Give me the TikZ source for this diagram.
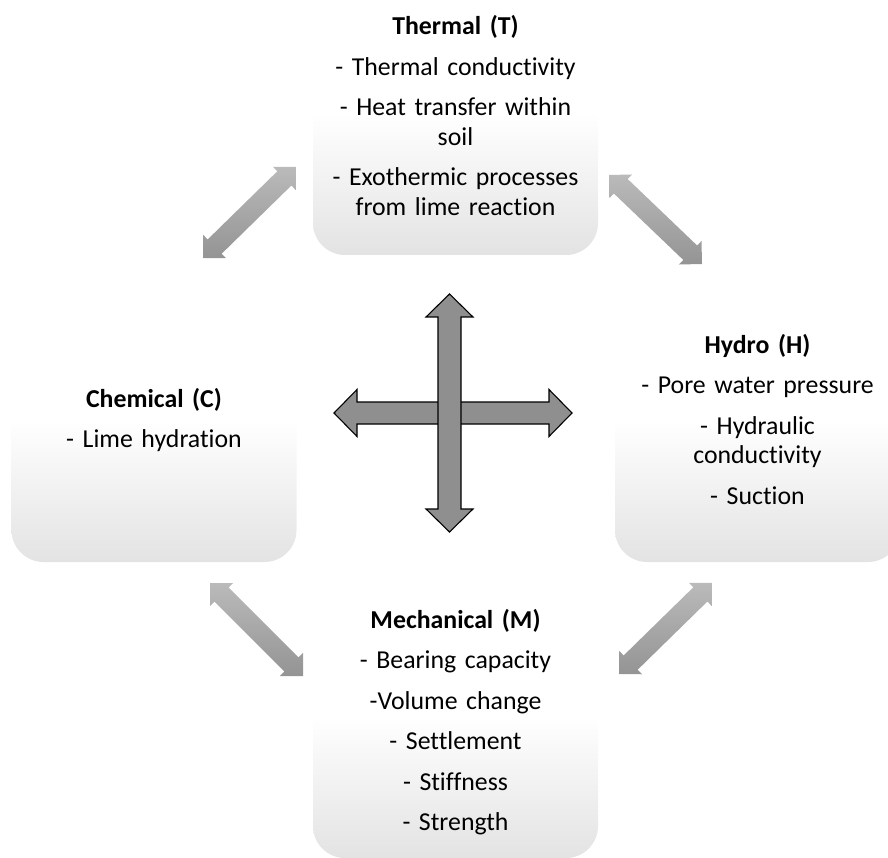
\documentclass[tikz,border=0pt]{standalone}
\usepackage{fontspec}
\setmainfont[Ligatures={NoCommon}]{Carlito}
\usetikzlibrary{calc}

\newcommand\dblarrow[6]{%
 \coordinate (#1h) at ($(#1)!#3!(#2)$);
 \coordinate (#2h) at ($(#2)!#3!(#1)$);
 \path[#6] (#1) -- ($(#1h)!#4!90:(#2)$) -- ($(#1h)!#5!90:(#2)$)
   -- ($(#2h)!#5!-90:(#1)$) -- ($(#2h)!#4!-90:(#1)$) -- (#2)
   -- ($(#2h)!#4!90:(#1)$) -- ($(#2h)!#5!90:(#1)$)
   -- ($(#1h)!#5!-90:(#2)$) -- ($(#1h)!#4!-90:(#2)$) -- cycle;}

\tikzset{
  box/.style={rectangle, rounded corners=32pt, minimum width=285pt,
    minimum height=285pt, inner sep=0pt,
    top color=white, bottom color=black!11, middle color=white},
  lbl/.style={text width=300pt, align=center, inner sep=0pt, anchor=base,
    font=\fontsize{25.8}{29.5}\selectfont},
  diagarrow/.style={top color=black!27, bottom color=black!42},
  crossarrow/.style={fill=black!44, draw=black, line width=1.1pt, line join=miter}
}

\begin{document}
\begin{tikzpicture}[x=1pt, y=-1pt]
\useasboundingbox (0,0) rectangle (888,858);
\clip (0,0) rectangle (888,858);

% boxes
\node[box] (T) at (455.5,112.5) {};
\node[box] (C) at (154,419.5) {};
\node[box] (H) at (757.5,419.5) {};
\node[box] (M) at (455.5,715.5) {};

% texts
\node[lbl] (Ttxt) at (455.5,35) {\textbf{Thermal (T)}\\[11pt]- Thermal conductivity\\[11pt]- Heat transfer within\\soil\\[11pt]- Exothermic processes\\from lime reaction};
\node[lbl] (Ctxt) at (154,407) {\textbf{Chemical (C)}\\[11pt]- Lime hydration};
\node[lbl] (Htxt) at (757.5,353) {\textbf{Hydro (H)}\\[11pt]- Pore water pressure\\[11pt]- Hydraulic\\conductivity\\[11pt]- Suction};
\node[lbl] (Mtxt) at (455.5,628) {\textbf{Mechanical (M)}\\[11pt]- Bearing capacity\\[11pt]-Volume change\\[11pt]- Settlement\\[11pt]- Stiffness\\[11pt]- Strength};

% diagonal arrows between boxes
\coordinate (ctA) at (203,258); \coordinate (ctB) at (296,167);
\coordinate (thA) at (609,175); \coordinate (thB) at (702,264);
\coordinate (cmA) at (210,583); \coordinate (cmB) at (303,676);
\coordinate (mhA) at (619,674); \coordinate (mhB) at (712,583);
\dblarrow{ctA}{ctB}{16.3pt}{16.3pt}{10pt}{diagarrow}
\dblarrow{thA}{thB}{16.3pt}{16.3pt}{10pt}{diagarrow}
\dblarrow{cmA}{cmB}{16.3pt}{16.3pt}{10pt}{diagarrow}
\dblarrow{mhA}{mhB}{16.3pt}{16.3pt}{10pt}{diagarrow}

% central cross
\coordinate (xL) at (334,413); \coordinate (xR) at (572,413);
\coordinate (xT) at (449.5,294); \coordinate (xB) at (449.5,532);
\dblarrow{xL}{xR}{23pt}{23.5pt}{11pt}{crossarrow}
\dblarrow{xT}{xB}{23pt}{23.5pt}{11.5pt}{crossarrow}
\end{tikzpicture}
\end{document}
